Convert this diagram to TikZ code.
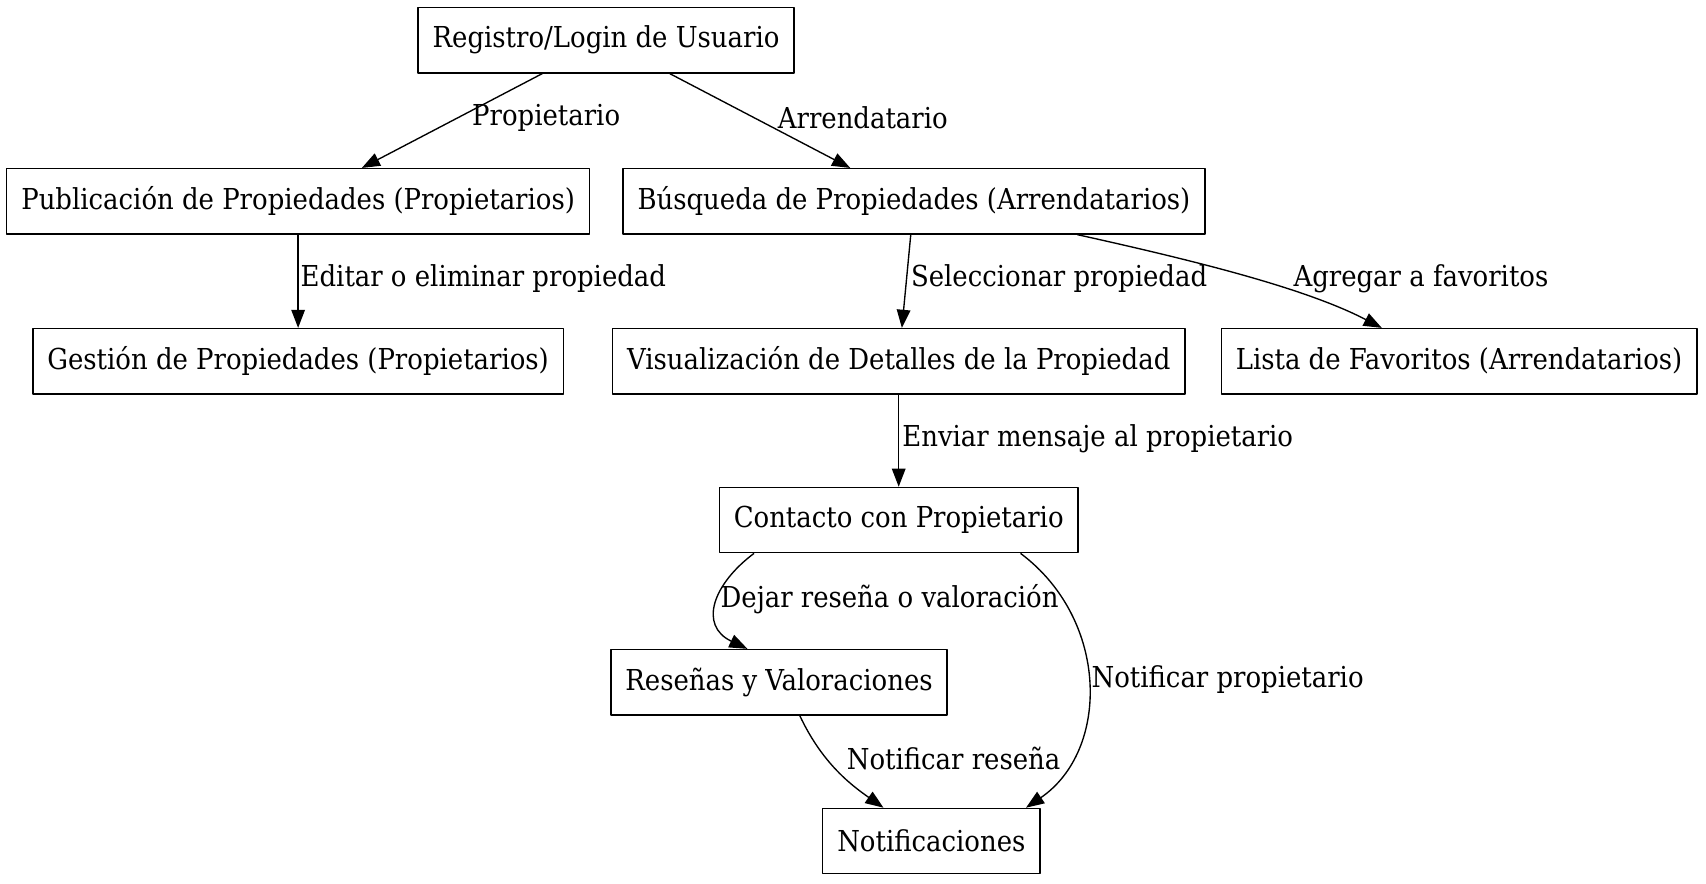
\documentclass[tikz,border=0pt]{standalone}
\usepackage{fontspec}
\setmainfont{DejaVu Serif Condensed}
\usetikzlibrary{arrows.meta,calc,positioning}
\tikzset{
  every picture/.style={line join=round, >=Stealth},
  box/.style={draw, line width=0.75pt, minimum height=36pt, inner xsep=8pt, font=\fontsize{15.9}{18}\selectfont},
  lbl/.style={inner sep=0pt, font=\fontsize{15.9}{18}\selectfont},
  flow/.style={-{Triangle[length=10pt,width=7.5pt]}, line width=0.75pt},
}
\begin{document}
\begin{tikzpicture}[x=0.6pt,y=-0.6pt]
\useasboundingbox (0,0) rectangle (1568,812);
% boxes
\node[box] (reg) at (557,37) {Registro/Login de Usuario};
\node[box] (pub) at (274,185) {Publicación de Propiedades (Propietarios)};
\node[box] (bus) at (840,185) {Búsqueda de Propiedades (Arrendatarios)};
\node[box] (ges) at (274,332) {Gestión de Propiedades (Propietarios)};
\node[box] (vis) at (826,332) {Visualización de Detalles de la Propiedad};
\node[box] (fav) at (1341,332) {Lista de Favoritos (Arrendatarios)};
\node[box] (con) at (826,478) {Contacto con Propietario};
\node[box] (res) at (716,627) {Reseñas y Valoraciones};
\node[box] (noti) at (856,773) {Notificaciones};
% edges
\draw[flow] (reg) -- (pub);
\draw[flow] (reg) -- (bus);
\draw[flow] (pub) -- (ges);
\draw[flow] (bus) -- (vis);
\draw[flow] ($(bus.south)+(150,0)$) .. controls (1100,240) and (1200,265) .. ($(fav.north)+(-71,0)$);
\draw[flow] (vis) -- (con);
\draw[flow] ($(con.south)+(-133,0)$) .. controls (655,537) and (642,575) .. ($(res.north)+(-29,0)$);
\draw[flow] ($(con.south)+(112,0)$) .. controls (1020,570) and (1020,690) .. ($(noti.north)+(87,0)$);
\draw[flow] ($(res.south)+(19,0)$) .. controls (755,700) and (780,720) .. ($(noti.north)+(-44,0)$);
% labels
\node[lbl] (l1) at (502,108) {Propietario};
\node[lbl] (l2) at (793,108) {Arrendatario};
\node[lbl, anchor=west] (l3) at (276,256) {Editar o eliminar propiedad};
\node[lbl, anchor=west] (l4) at (837,256) {Seleccionar propiedad};
\node[lbl] (l5) at (1306,256) {Agregar a favoritos};
\node[lbl, anchor=west] (l6) at (829,403) {Enviar mensaje al propietario};
\node[lbl, anchor=west] (l7) at (662,551) {Dejar reseña o valoración};
\node[lbl, anchor=west] (l8) at (1003,625) {Notificar propietario};
\node[lbl, anchor=west] (l9) at (778,697) {Notificar reseña};
\end{tikzpicture}
\end{document}
